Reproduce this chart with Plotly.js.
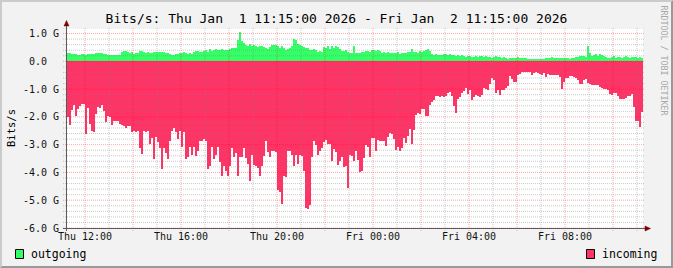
<!DOCTYPE html>
<html>
<head>
<meta charset="utf-8">
<script src="https://cdn.plot.ly/plotly-3.0.1.min.js"></script>
<style>
  html, body { margin: 0; padding: 0; background: #F2F2F2; }
  #chart { width: 673px; height: 268px; }
</style>
</head>
<body>
<div id="chart"></div>
<script>
// ---------------- data ----------------
const seriesNames = ['outgoing', 'incoming'];
const seriesColors = ['#33FF66', '#FF3366'];
const titleText = 'Bits/s: Thu Jan\u00A0\u00A01 11:15:00 2026 - Fri Jan\u00A0\u00A02 11:15:00 2026';
const yTitle = 'Bits/s';
const stepMinutes = 5;
const startTime = Date.UTC(2026, 0, 1, 11, 15, 0);
const endTime = Date.UTC(2026, 0, 2, 11, 15, 0);

// outgoing traffic, G bits/s (5-minute steps)
const outgoing = [
  0.30,0.30,0.28,0.28,0.25,0.24,0.24,0.25,0.25,0.24,0.25,0.25,0.25,0.25,0.31,0.31,0.31,0.30,0.25,0.25,
  0.24,0.24,0.22,0.22,0.23,0.23,0.23,
  0.34,0.36,0.37,0.34,0.30,0.34,0.25,0.30,0.29,0.38,
  0.36,0.34,0.30,0.34,0.30,0.31,0.32,0.34,0.35,0.35,
  0.34,0.32,0.30,0.30,0.26,0.24,0.24,0.28,0.26,0.29,
  0.31,0.35,0.30,0.28,0.29,0.28,0.32,0.38,0.36,0.34,
  0.35,0.37,0.40,0.35,0.44,0.37,0.42,0.43,0.41,0.42,
  0.43,0.40,0.42,0.42,0.44,0.48,0.49,0.49,0.76,1.07,
  0.74,0.66,0.60,0.54,0.64,0.56,0.60,0.56,0.52,0.54,
  0.54,0.53,0.49,0.44,0.52,0.59,0.59,0.59,0.56,0.47,
  0.54,0.47,0.42,0.44,0.47,0.56,0.80,0.76,0.64,0.60,
  0.54,0.52,0.49,0.47,0.42,0.40,0.44,0.40,0.32,0.38,
  0.35,0.52,0.47,0.54,0.44,0.54,0.47,0.56,0.52,0.44,
  0.38,0.36,0.40,0.32,0.30,0.30,0.56,0.30,0.30,0.30,
  0.35,0.32,0.36,0.38,0.35,0.40,0.41,0.38,0.41,0.37,
  0.31,0.32,0.30,0.32,0.29,0.30,0.31,0.30,0.34,0.28,
  0.30,0.30,0.29,0.32,0.35,0.44,0.35,0.32,0.30,0.36,
  0.32,0.36,0.42,0.46,0.38,0.25,0.23,0.25,0.24,0.24,
  0.23,0.25,0.28,0.23,0.25,0.23,0.22,0.20,0.23,0.20,
  0.22,0.18,0.16,0.18,0.20,0.16,0.17,0.18,0.16,0.20,
  0.18,0.16,0.18,0.16,0.14,0.13,0.16,0.18,0.16,0.14,
  0.13,0.16,0.11,0.10,0.11,0.11,0.13,0.11,0.16,0.13,
  0.13,0.11,0.11,0.10,0.08,0.08,0.07,0.08,0.07,0.08,
  0.08,0.08,0.11,0.11,0.13,0.16,0.11,0.13,0.12,0.11,
  0.11,0.13,0.13,0.11,0.10,0.11,0.13,0.16,0.16,0.18,
  0.20,0.18,0.16,0.56,0.30,0.20,0.23,0.25,0.18,0.28,
  0.23,0.18,0.16,0.13,0.13,0.16,0.18,0.13,0.16,0.16,
  0.13,0.16,0.18,0.16,0.13,0.16,0.14,0.16,0.13,0.14,
  0.13
];

// incoming traffic, G bits/s (drawn below zero)
const incoming = [
  -2.01,-2.28,-1.74,-1.56,-1.96,-1.72,-1.62,-1.54,-1.53,-2.61,
  -1.68,-2.25,-2.52,-2.56,-1.89,-1.65,-1.68,-1.56,-1.80,-2.20,
  -1.98,-2.01,-2.28,-2.14,-2.16,-2.16,-2.25,-2.28,-2.32,-2.40,
  -2.34,-2.32,-2.56,-2.52,-2.56,-2.52,-3.12,-3.33,-2.52,-2.56,
  -2.52,-2.97,-2.76,-3.50,-2.73,-2.92,-3.12,-3.86,-3.12,-3.30,
  -3.50,-2.88,-2.49,-2.40,-2.56,-2.79,-2.52,-3.09,-2.56,-3.50,
  -3.45,-3.09,-3.36,-3.09,-3.39,-3.21,-2.85,-2.85,-2.80,-2.88,
  -3.88,-3.78,-3.09,
  -3.52,-3.36,-3.09,-3.64,-4.14,-3.78,-3.93,-4.12,-3.78,-3.12,
  -3.45,-3.30,-4.12,-3.45,-3.45,-3.12,-3.48,-3.69,-4.32,-3.36,
  -3.72,-3.76,-3.84,-4.14,-3.76,-3.42,-2.88,-3.28,-3.45,-3.24,
  -3.21,-3.28,-4.62,-4.72,-5.13,-4.12,-4.17,-3.24,-3.24,-3.36,
  -3.76,-3.36,-3.69,-3.36,-3.40,-3.96,-5.28,-5.32,-5.16,-3.45,
  -2.85,-3.00,-3.36,-3.24,-3.12,-2.92,-2.82,-2.97,-2.97,-3.57,
  -3.16,-3.28,-3.72,-3.57,-3.45,-3.81,-3.76,-4.56,-3.36,-3.42,
  -3.60,
  -3.21,-3.54,-4.00,-3.96,-3.48,-3.00,-3.09,-3.45,-2.76,-2.76,
  -3.21,-2.82,-2.85,-2.88,-2.88,-3.04,-2.73,-2.58,-2.61,-2.80,
  -3.18,-3.09,-3.21,-3.12,-2.76,-2.94,-2.70,-2.44,-2.97,-2.46,
  -1.92,-1.86,-1.89,-1.72,-1.72,-1.98,-1.96,-1.56,-1.48,-1.38,
  -1.26,-1.24,-1.28,-1.24,-1.28,-1.24,-1.14,-1.12,-1.24,-1.62,
  -1.86,-1.36,-1.28,-1.14,-1.08,-0.96,-1.16,-1.04,-1.38,-1.28,
  -1.20,-1.26,-1.28,-1.20,-0.97,-1.00,-1.04,-0.80,-0.60,
  -0.68,-1.14,-1.02,-1.20,-1.04,-1.02,-0.96,-0.88,-0.52,-0.64,
  -0.76,-0.76,-0.48,-0.44,-0.37,-0.37,-0.40,-0.40,-0.40,-0.49,
  -0.42,-0.37,-0.42,-0.44,-0.50,-0.42,-0.56,-0.44,-0.48,-0.48,
  -0.50,-0.48,-0.49,-0.56,-1.00,-0.76,-0.60,-0.59,-0.54,-0.54,
  -0.56,-0.60,-0.66,-0.80,-0.80,-0.68,-0.64,-0.78,-0.80,-0.84,
  -0.85,-0.85,-0.85,-0.92,-0.97,-1.00,-1.00,-1.02,-1.16,-1.20,
  -1.14,-1.14,-1.26,-1.35,-1.35,-1.35,-1.31,-1.26,-1.26,-1.16,
  -1.65,-2.13,-2.13,-2.38,-1.84
];

// axis ticks
const yTickVals = [-6, -5, -4, -3, -2, -1, 0, 1];
const yTickText = ['-6.0 G', '-5.0 G', '-4.0 G', '-3.0 G', '-2.0 G', '-1.0 G', '0.0\u00A0\u00A0', '1.0 G'];
const xTickTimes = ['2026-01-01 12:00', '2026-01-01 14:00', '2026-01-01 16:00', '2026-01-01 18:00',
                    '2026-01-01 20:00', '2026-01-01 22:00', '2026-01-02 00:00', '2026-01-02 02:00',
                    '2026-01-02 04:00', '2026-01-02 06:00', '2026-01-02 08:00', '2026-01-02 10:00'];
const xTickText = ['Thu 12:00', '', 'Thu 16:00', '', 'Thu 20:00', '', 'Fri 00:00', '', 'Fri 04:00', '', 'Fri 08:00', ''];
const yRange = [-6, 1.2];
const creditText = 'RRDTOOL / TOBI OETIKER';

// ---------------- layout helpers ----------------
const FIG_W = 673, FIG_H = 268;
const M = { l: 67, r: 30, t: 28, b: 40 };
const PW = FIG_W - M.l - M.r, PH = FIG_H - M.t - M.b;
const X = px => (px - M.l) / PW;          // pixel -> paper x
const Y = py => (M.t + PH - py) / PH;     // pixel -> paper y

const STEP = stepMinutes * 60000;
function toStr(ms) {
  const d = new Date(ms);
  const p = n => String(n).padStart(2, '0');
  return d.getUTCFullYear() + '-' + p(d.getUTCMonth() + 1) + '-' + p(d.getUTCDate()) + ' ' +
         p(d.getUTCHours()) + ':' + p(d.getUTCMinutes()) + ':' + p(d.getUTCSeconds());
}
const xs = outgoing.map((_, i) => toStr(startTime + (i + 0.5) * STEP));

const mono = 'DejaVu Sans Mono, monospace';

const traces = [
  { type: 'bar', name: seriesNames[0], x: xs, y: outgoing, width: STEP,
    marker: { color: seriesColors[0], line: { width: 0 } }, showlegend: false, hoverinfo: 'x+y' },
  { type: 'bar', name: seriesNames[1], x: xs, y: incoming, width: STEP,
    marker: { color: seriesColors[1], line: { width: 0 } }, showlegend: false, hoverinfo: 'x+y' }
];

// grid (RRDtool draws the grid over the data)
const GRID = 'rgba(128,128,128,0.42)';
const MGRID = 'rgba(255,0,0,0.34)';
const shapes = [];
for (let k = Math.round(yRange[0] * 5); k <= Math.round(yRange[1] * 5); k++) {
  const major = (k % 5 === 0);
  shapes.push({ type: 'line', layer: 'above', xref: 'paper', yref: 'y',
    x0: X(63), x1: X(645), y0: k / 5, y1: k / 5,
    line: { color: major ? MGRID : GRID, width: 1, dash: '1px,1px' } });
}
const firstHour = Date.UTC(2026, 0, 1, 12, 0, 0);
for (let t = firstHour, h = 0; t < endTime; t += 3600000, h++) {
  const major = (h % 2 === 0);
  shapes.push({ type: 'line', layer: 'above', xref: 'x', yref: 'paper',
    x0: toStr(t), x1: toStr(t), y0: Y(231), y1: Y(M.t),
    line: { color: major ? MGRID : GRID, width: 1, dash: '1px,1px' } });
}
// axes with arrows
const AXIS = '#5a5a5a', ARROW = '#7F0000';
shapes.push({ type: 'line', layer: 'above', xref: 'paper', yref: 'paper',
  x0: X(63), x1: X(647), y0: Y(228.5), y1: Y(228.5), line: { color: AXIS, width: 1 } });
shapes.push({ type: 'line', layer: 'above', xref: 'paper', yref: 'paper',
  x0: X(66.5), x1: X(66.5), y0: Y(231), y1: Y(24), line: { color: AXIS, width: 1 } });
shapes.push({ type: 'path', layer: 'above', xref: 'paper', yref: 'paper',
  path: `M ${X(64)} ${Y(26)} L ${X(69)} ${Y(26)} L ${X(66.5)} ${Y(20.5)} Z`,
  fillcolor: ARROW, line: { color: ARROW, width: 0.5 } });
shapes.push({ type: 'path', layer: 'above', xref: 'paper', yref: 'paper',
  path: `M ${X(645)} ${Y(226)} L ${X(645)} ${Y(231)} L ${X(650.5)} ${Y(228.5)} Z`,
  fillcolor: ARROW, line: { color: ARROW, width: 0.5 } });
// legend boxes
shapes.push({ type: 'rect', layer: 'above', xref: 'paper', yref: 'paper',
  x0: X(15.5), x1: X(23.5), y0: Y(258.5), y1: Y(249.5),
  fillcolor: seriesColors[0], line: { color: '#000', width: 1 } });
shapes.push({ type: 'rect', layer: 'above', xref: 'paper', yref: 'paper',
  x0: X(586.5), x1: X(594.5), y0: Y(258.5), y1: Y(249.5),
  fillcolor: seriesColors[1], line: { color: '#000', width: 1 } });
// image frame (light top/left, dark bottom/right)
shapes.push({ type: 'path', layer: 'above', xref: 'paper', yref: 'paper',
  path: `M ${X(0)} ${Y(0)} L ${X(673)} ${Y(0)} L ${X(671)} ${Y(2)} L ${X(2)} ${Y(2)} L ${X(2)} ${Y(266)} L ${X(0)} ${Y(268)} Z`,
  fillcolor: '#CBCBCB', line: { width: 0 } });
shapes.push({ type: 'path', layer: 'above', xref: 'paper', yref: 'paper',
  path: `M ${X(673)} ${Y(0)} L ${X(673)} ${Y(268)} L ${X(0)} ${Y(268)} L ${X(2)} ${Y(266)} L ${X(671)} ${Y(266)} L ${X(671)} ${Y(2)} Z`,
  fillcolor: '#999999', line: { width: 0 } });

const annotations = [
  { xref: 'paper', yref: 'paper', x: X(29), y: Y(253.5), xanchor: 'left', yanchor: 'middle',
    text: seriesNames[0], showarrow: false, font: { family: mono, size: 11.5, color: '#000' } },
  { xref: 'paper', yref: 'paper', x: X(600), y: Y(253.5), xanchor: 'left', yanchor: 'middle',
    text: seriesNames[1], showarrow: false, font: { family: mono, size: 11.5, color: '#000' } },
  { xref: 'paper', yref: 'paper', x: X(663.5), y: Y(60), xanchor: 'center', yanchor: 'middle',
    text: creditText, textangle: 90, showarrow: false, font: { family: mono, size: 8.3, color: '#A8A8A8' } }
];

const layout = {
  width: FIG_W, height: FIG_H,
  margin: M,
  paper_bgcolor: '#F2F2F2', plot_bgcolor: '#FFFFFF',
  barmode: 'relative', bargap: 0,
  showlegend: false,
  title: { text: titleText, x: 0.5, xref: 'container', y: 1 - 18 / FIG_H, yref: 'container',
           xanchor: 'center', yanchor: 'middle', font: { family: mono, size: 13, color: '#000' } },
  xaxis: {
    type: 'date', range: [toStr(startTime), toStr(endTime)],
    tickmode: 'array', tickvals: xTickTimes, ticktext: xTickText,
    showgrid: false, zeroline: false, showline: false, ticks: '',
    tickfont: { family: mono, size: 10, color: '#111' }, ticklabelstandoff: 1
  },
  yaxis: {
    range: yRange, tickmode: 'array', tickvals: yTickVals, ticktext: yTickText,
    showgrid: false, zeroline: false, showline: false, ticks: '',
    tickfont: { family: mono, size: 10, color: '#111' }, ticklabelstandoff: 7,
    title: { text: yTitle, font: { family: mono, size: 10.5, color: '#000' }, standoff: 5 }
  },
  shapes: shapes,
  annotations: annotations
};

Plotly.newPlot('chart', traces, layout, { staticPlot: true, displayModeBar: false });
</script>
</body>
</html>
